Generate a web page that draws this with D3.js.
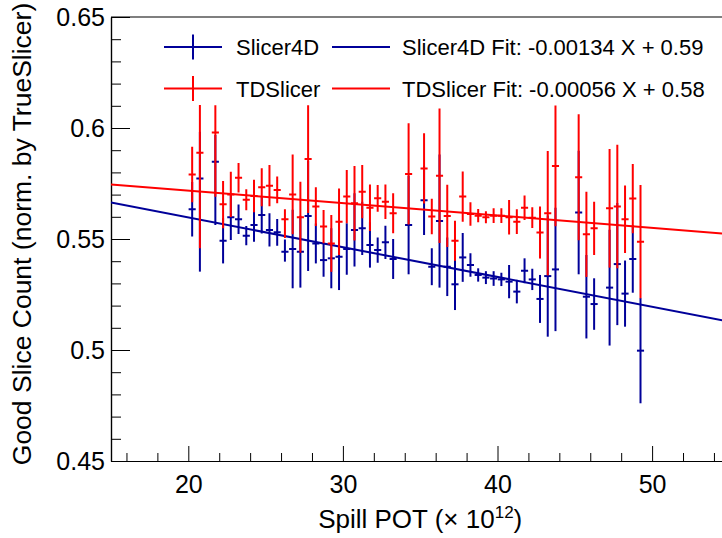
<!DOCTYPE html>
<html>
<head>
<meta charset="utf-8">
<script src="https://cdn.jsdelivr.net/npm/d3@7/dist/d3.min.js"></script>
<style>
  html, body { margin: 0; padding: 0; background: #fff; }
  svg { display: block; font-family: "Liberation Sans", Arial, Helvetica, sans-serif; }
</style>
</head>
<body>
<svg id="chart" width="722" height="538"></svg>
<script>
// ---- data ----
const potBins = [20.25, 20.75, 21.75, 22.25, 22.75, 23.25, 23.75, 24.25, 24.75, 25.25,
  25.75, 26.25, 26.75, 27.25, 27.75, 28.25, 28.75, 29.25, 29.75, 30.25,
  30.75, 31.25, 31.75, 32.25, 32.75, 33.25, 34.25, 35.25, 35.75, 36.25,
  36.75, 37.25, 37.75, 38.25, 38.75, 39.25, 39.75, 40.25, 40.75, 41.25,
  41.75, 42.25, 42.75, 43.25, 43.75, 45.25, 45.75, 46.25, 47.25, 47.75,
  48.25, 48.75, 49.25];
const binHalfWidth = 0.23;

const slicer4dVal = [0.5634, 0.5773, 0.5848, 0.5492, 0.5598, 0.5589, 0.5515, 0.5563, 0.5608, 0.5541,
  0.5530, 0.5443, 0.5455, 0.5443, 0.5604, 0.5480, 0.5405, 0.5413, 0.5420, 0.5455,
  0.5541, 0.5548, 0.5473, 0.5450, 0.5485, 0.5410, 0.5563, 0.5674, 0.5375, 0.5581,
  0.5375, 0.5296, 0.5417, 0.5383, 0.5338, 0.5326, 0.5322, 0.5318, 0.5308, 0.5263,
  0.5357, 0.5318, 0.5230, 0.5333, 0.5363, 0.5619, 0.5240, 0.5207, 0.5281, 0.5387,
  0.5254, 0.5410, 0.4997];
const slicer4dErrUp = [0.0123, 0.0210, 0.0120, 0.0102, 0.0102, 0.0066, 0.0043, 0.0075, 0.0083, 0.0075,
  0.0060, 0.0055, 0.0177, 0.0162, 0.0248, 0.0090, 0.0075, 0.0135, 0.0150, 0.0116,
  0.0165, 0.0120, 0.0102, 0.0057, 0.0075, 0.0090, 0.0222, 0.0156, 0.0083, 0.0300,
  0.0132, 0.0116, 0.0110, 0.0053, 0.0030, 0.0029, 0.0033, 0.0030, 0.0075, 0.0053,
  0.0056, 0.0048, 0.0108, 0.0273, 0.0278, 0.0278, 0.0188, 0.0116, 0.0261, 0.0275,
  0.0149, 0.0152, 0.0237];
const slicer4dErrDown = [0.0123, 0.0420, 0.0285, 0.0102, 0.0102, 0.0066, 0.0043, 0.0075, 0.0083, 0.0075,
  0.0060, 0.0045, 0.0177, 0.0162, 0.0248, 0.0090, 0.0075, 0.0135, 0.0150, 0.0116,
  0.0165, 0.0120, 0.0102, 0.0057, 0.0075, 0.0090, 0.0222, 0.0156, 0.0083, 0.0300,
  0.0132, 0.0116, 0.0110, 0.0053, 0.0030, 0.0029, 0.0033, 0.0030, 0.0075, 0.0053,
  0.0056, 0.0048, 0.0108, 0.0273, 0.0278, 0.0278, 0.0188, 0.0116, 0.0261, 0.0275,
  0.0149, 0.0152, 0.0237];

const tdslicerVal = [0.5791, 0.5889, 0.5980, 0.5656, 0.5701, 0.5776, 0.5677, 0.5694, 0.5733, 0.5740,
  0.5721, 0.5589, 0.5701, 0.5598, 0.5860, 0.5646, 0.5556, 0.5480, 0.5578, 0.5691,
  0.5661, 0.5713, 0.5641, 0.5683, 0.5668, 0.5616, 0.5793, 0.5818, 0.5601, 0.5785,
  0.5604, 0.5492, 0.5691, 0.5613, 0.5605, 0.5598, 0.5605, 0.5605, 0.5598, 0.5578,
  0.5641, 0.5596, 0.5529, 0.5616, 0.5829, 0.5778, 0.5521, 0.5548, 0.5638, 0.5646,
  0.5589, 0.5682, 0.5488];
const tdslicerErrUp = [0.0125, 0.0215, 0.0123, 0.0105, 0.0102, 0.0066, 0.0047, 0.0073, 0.0086, 0.0093,
  0.0060, 0.0045, 0.0180, 0.0160, 0.0243, 0.0087, 0.0075, 0.0128, 0.0150, 0.0120,
  0.0168, 0.0120, 0.0105, 0.0060, 0.0078, 0.0090, 0.0228, 0.0158, 0.0080, 0.0303,
  0.0140, 0.0090, 0.0113, 0.0053, 0.0030, 0.0027, 0.0033, 0.0033, 0.0078, 0.0056,
  0.0055, 0.0047, 0.0117, 0.0280, 0.0272, 0.0284, 0.0192, 0.0120, 0.0267, 0.0278,
  0.0152, 0.0156, 0.0255];
const tdslicerErrDown = [0.0125, 0.0431, 0.0290, 0.0108, 0.0102, 0.0066, 0.0047, 0.0073, 0.0086, 0.0093,
  0.0060, 0.0085, 0.0180, 0.0160, 0.0243, 0.0087, 0.0075, 0.0128, 0.0150, 0.0120,
  0.0168, 0.0120, 0.0105, 0.0060, 0.0078, 0.0090, 0.0228, 0.0158, 0.0080, 0.0303,
  0.0140, 0.0090, 0.0113, 0.0053, 0.0030, 0.0027, 0.0033, 0.0033, 0.0078, 0.0056,
  0.0055, 0.0047, 0.0117, 0.0280, 0.0272, 0.0284, 0.0192, 0.0120, 0.0267, 0.0278,
  0.0152, 0.0156, 0.0255];

const seriesNames = ["Slicer4D", "TDSlicer"];
const fitSlope = [-0.00134, -0.00056];
const fitIntercept = [0.5865, 0.5830];
const fitLabels = ["Slicer4D Fit: -0.00134 X + 0.59", "TDSlicer Fit: -0.00056 X + 0.58"];
const seriesColors = ["#000099", "#ff0000"];

const xDomain = [15, 55];
const yDomain = [0.45, 0.65];
const xMajorTicks = [20, 30, 40, 50];
const xMinorTicks = [16, 18, 22, 24, 26, 28, 32, 34, 36, 38, 42, 44, 46, 48, 52, 54];
const yMajorTicks = [0.45, 0.5, 0.55, 0.6, 0.65];
const yMinorTicks = [0.46, 0.47, 0.48, 0.49, 0.51, 0.52, 0.53, 0.54, 0.56, 0.57, 0.58, 0.59, 0.61, 0.62, 0.63, 0.64];

// ---- layout ----
const svg = d3.select("#chart");
const padL = 111, padT = 17, padB = 461, padR = 111 + 40 * 15.46;
const x = d3.scaleLinear().domain(xDomain).range([padL, padR]);
const y = d3.scaleLinear().domain(yDomain).range([padB, padT]);

svg.append("rect").attr("width", 722).attr("height", 538).attr("fill", "#fff");

svg.append("defs").append("clipPath").attr("id", "plotclip")
  .append("rect").attr("x", padL).attr("y", padT - 1).attr("width", padR - padL).attr("height", padB - padT + 1);

// axes
const fmt = d => String(+d.toFixed(2));
const xAxisMajor = d3.axisBottom(x).tickValues(xMajorTicks).tickSize(-15).tickSizeOuter(0).tickPadding(14).tickFormat(d3.format("d"));
const xAxisMinor = d3.axisBottom(x).tickValues(xMinorTicks).tickSize(-8).tickSizeOuter(0).tickFormat("");
const yAxisMajor = d3.axisLeft(y).tickValues(yMajorTicks).tickSize(-19).tickSizeOuter(0).tickPadding(6).tickFormat(fmt);
const yAxisMinor = d3.axisLeft(y).tickValues(yMinorTicks).tickSize(-10).tickSizeOuter(0).tickFormat("");

function styleAxis(g, size) {
  g.selectAll("path").attr("stroke", "#000").attr("stroke-width", 1.2);
  g.selectAll("line").attr("stroke", "#000").attr("stroke-width", 1);
  g.selectAll("text").attr("fill", "#000").style("font-size", size + "px")
    .style("font-family", "'Liberation Sans', Arial, Helvetica, sans-serif");
}
svg.append("g").attr("transform", `translate(0,${padB})`).call(xAxisMinor).call(g => styleAxis(g, 25));
svg.append("g").attr("transform", `translate(0,${padB})`).call(xAxisMajor).call(g => styleAxis(g, 25));
svg.append("g").attr("transform", `translate(${padL},0)`).call(yAxisMinor).call(g => styleAxis(g, 25));
svg.append("g").attr("transform", `translate(${padL},0)`).call(yAxisMajor).call(g => styleAxis(g, 25));

// top / right frame
svg.append("line").attr("x1", padL).attr("x2", padR).attr("y1", padT).attr("y2", padT)
  .attr("stroke", "#000").attr("stroke-width", 1.2);
svg.append("line").attr("x1", padR).attr("x2", padR).attr("y1", padT).attr("y2", padB)
  .attr("stroke", "#000").attr("stroke-width", 1.2);

// axis titles
const xt = svg.append("text").attr("x", (padL + padR) / 2).attr("y", 528)
  .attr("text-anchor", "middle").style("font-size", "26px").attr("fill", "#000");
xt.append("tspan").text("Spill POT (\u00d7 10");
xt.append("tspan").attr("dy", -10).style("font-size", "17px").text("12");
xt.append("tspan").attr("dy", 10).text(")");

svg.append("text").attr("transform", `translate(31,234) rotate(-90)`)
  .attr("text-anchor", "middle").style("font-size", "26.5px").attr("fill", "#000")
  .text("Good Slice Count (norm. by TrueSlicer)");

// data
const plot = svg.append("g").attr("clip-path", "url(#plotclip)");
const series = [
  { vals: slicer4dVal, up: slicer4dErrUp, down: slicer4dErrDown },
  { vals: tdslicerVal, up: tdslicerErrUp, down: tdslicerErrDown }
];

series.forEach((s, i) => {
  const color = seriesColors[i];
  const pts = potBins.map((p, j) => ({ x: p, v: s.vals[j], up: s.up[j], down: s.down[j] }));
  const g = plot.append("g");
  g.selectAll("line.v").data(pts).join("line").attr("class", "v")
    .attr("x1", d => x(d.x)).attr("x2", d => x(d.x))
    .attr("y1", d => y(d.v + d.up)).attr("y2", d => y(d.v - d.down))
    .attr("stroke", color).attr("stroke-width", 2);
  g.selectAll("line.h").data(pts).join("line").attr("class", "h")
    .attr("x1", d => x(d.x - binHalfWidth)).attr("x2", d => x(d.x + binHalfWidth))
    .attr("y1", d => y(d.v)).attr("y2", d => y(d.v))
    .attr("stroke", color).attr("stroke-width", 2);
  g.append("line")
    .attr("x1", x(xDomain[0])).attr("x2", x(xDomain[1]))
    .attr("y1", y(fitIntercept[i] + fitSlope[i] * xDomain[0]))
    .attr("y2", y(fitIntercept[i] + fitSlope[i] * xDomain[1]))
    .attr("stroke", color).attr("stroke-width", 2);
});

// legend
const legRows = [47, 88.5];
seriesNames.forEach((name, i) => {
  const cy = legRows[i];
  const color = seriesColors[i];
  const lg = svg.append("g");
  lg.append("line").attr("x1", 164).attr("x2", 222).attr("y1", cy).attr("y2", cy)
    .attr("stroke", color).attr("stroke-width", 2);
  lg.append("line").attr("x1", 193).attr("x2", 193).attr("y1", cy - 12.5).attr("y2", cy + 12.5)
    .attr("stroke", color).attr("stroke-width", 2);
  lg.append("text").attr("x", 236).attr("y", cy + 8).style("font-size", "22px").attr("fill", "#000").text(name);
  lg.append("line").attr("x1", 332).attr("x2", 390).attr("y1", cy).attr("y2", cy)
    .attr("stroke", color).attr("stroke-width", 2);
  lg.append("text").attr("x", 402).attr("y", cy + 8).style("font-size", "22px").attr("fill", "#000").text(fitLabels[i]);
});
</script>
</body>
</html>
